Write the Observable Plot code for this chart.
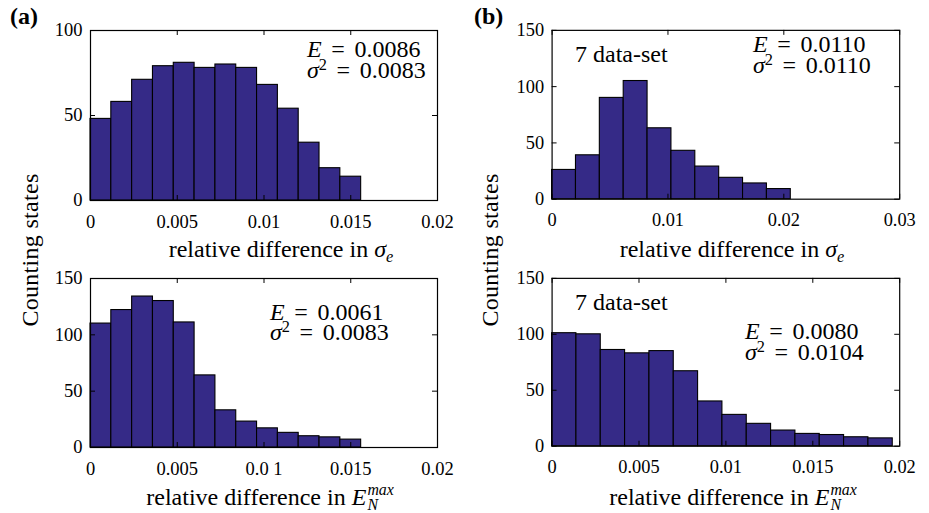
<!DOCTYPE html>
<html>
<head>
<meta charset="utf-8">
<script src="https://cdn.jsdelivr.net/npm/d3@7"></script>
<script src="https://cdn.jsdelivr.net/npm/@observablehq/plot@0.6"></script>
<style>
  html, body { margin: 0; padding: 0; background: #fff; }
  #fig { position: relative; width: 929px; height: 513px; background: #fff; overflow: hidden; font-family: "Liberation Serif", serif; color: #000; }
  .p { position: absolute; }
  .p svg { overflow: visible; }
  .t { position: absolute; white-space: nowrap; font-family: "Liberation Serif", serif; font-size: 24px; line-height: 0.8; transform: translateY(-50%); }
  .c { transform: translate(-50%, -50%); }
  .eqs { margin: 0 0.4em; }
  .sup { font-size: 0.68em; vertical-align: 0.5em; line-height: 0; }
  .sub { font-size: 0.68em; vertical-align: -0.3em; line-height: 0; }
  .stk { display: inline-flex; flex-direction: column; font-size: 0.66em; line-height: 0.95; vertical-align: 0.62em; margin-left: 1px; }
</style>
</head>
<body>
<div id="fig"></div>
<script>
// ---------- data ----------
// (a) top: relative difference in sigma_e
const aTopCounts = [48, 58, 71, 79, 81, 78, 80, 78, 68, 54, 34, 19, 14];
const aTopBinWidth = 0.0012;
// (a) bottom: relative difference in E_N^max
const aBotCounts = [110, 122, 134, 130, 111, 64, 33, 23, 17, 13, 10, 9, 7];
const aBotBinWidth = 0.0012;
// (b) top: relative difference in sigma_e (7 data-set)
const bTopCounts = [26, 39, 90, 105, 63, 43, 29, 19, 14, 9];
const bTopBinWidth = 0.00206;
// (b) bottom: relative difference in E_N^max (7 data-set)
const bBotCounts = [101, 100, 86, 83, 85, 67, 40, 28, 20, 14, 11, 10, 8, 7];
const bBotBinWidth = 0.0014;

const xTicks02 = [0, 0.005, 0.01, 0.015, 0.02];
const xLabelsATop = ["0", "0.005", "0.01", "0.015", "0.02"];
const xLabelsABot = ["0", "0.005", "0.0 1", "0.015", "0.02"];
const xLabelsBBot = ["0", "0.005", "0.01", "0.015", "0.02"];
const xTicks03 = [0, 0.01, 0.02, 0.03];
const xLabelsBTop = ["0", "0.01", "0.02", "0.03"];
const yTicks100 = [0, 50, 100];
const yTicks150 = [0, 50, 100, 150];

const barFill = "#352a87";
const serif = "'Liberation Serif', serif";

// ---------- drawing ----------
const fig = document.getElementById("fig");

function panel({counts, binW, xMax, xTicks, xLabels, yMax, yTicks, frame}) {
  const [x0, y0, x1, y1] = frame;
  const ml = 60, mr = 30, mt = 20, mb = 40;
  const fw = x1 - x0, fh = y1 - y0;
  const tick = 5;
  const data = counts.map((c, i) => ({x1: i * binW, x2: (i + 1) * binW, y: c}));
  const p = Plot.plot({
    width: fw + ml + mr,
    height: fh + mt + mb,
    marginLeft: ml, marginRight: mr, marginTop: mt, marginBottom: mb,
    style: {fontFamily: serif, fontSize: "18.5px", color: "#000", background: "transparent"},
    x: {domain: [0, xMax]},
    y: {domain: [0, yMax]},
    marks: [
      Plot.rectY(data, {x1: "x1", x2: "x2", y: "y", fill: barFill, stroke: "#000", strokeWidth: 1.1}),
      Plot.tickX(xTicks, {x: d => d, insetTop: fh - tick, stroke: "#000"}),
      Plot.tickX(xTicks, {x: d => d, insetBottom: fh - tick, stroke: "#000"}),
      Plot.tickY(yTicks, {y: d => d, insetRight: fw - tick, stroke: "#000"}),
      Plot.tickY(yTicks, {y: d => d, insetLeft: fw - tick, stroke: "#000"}),
      Plot.axisX({anchor: "bottom", ticks: xTicks, tickSize: 0, tickPadding: 14, tickFormat: d => xLabels[xTicks.indexOf(d)], label: null, fontFamily: serif}),
      Plot.axisY({anchor: "left", ticks: yTicks, tickSize: 0, tickPadding: 8, tickFormat: d => String(d), label: null, fontFamily: serif}),
      Plot.frame({stroke: "#000", strokeWidth: 1.2})
    ]
  });
  const holder = document.createElement("div");
  holder.className = "p";
  holder.style.left = (x0 - ml) + "px";
  holder.style.top = (y0 - mt) + "px";
  holder.appendChild(p);
  fig.appendChild(holder);
}

panel({counts: aTopCounts, binW: aTopBinWidth, xMax: 0.02, xTicks: xTicks02, xLabels: xLabelsATop, yMax: 100, yTicks: yTicks100, frame: [90, 30, 437, 200]});
panel({counts: aBotCounts, binW: aBotBinWidth, xMax: 0.02, xTicks: xTicks02, xLabels: xLabelsABot, yMax: 150, yTicks: yTicks150, frame: [90, 278, 437, 447]});
panel({counts: bTopCounts, binW: bTopBinWidth, xMax: 0.03, xTicks: xTicks03, xLabels: xLabelsBTop, yMax: 150, yTicks: yTicks150, frame: [552, 30, 902, 200]});
panel({counts: bBotCounts, binW: bBotBinWidth, xMax: 0.02, xTicks: xTicks02, xLabels: xLabelsBBot, yMax: 150, yTicks: yTicks150, frame: [552, 278, 902, 447]});

// ---------- text ----------
function txt(html, x, y, cls = "", extra = "") {
  const d = document.createElement("div");
  d.className = "t " + cls;
  d.style.left = x + "px";
  d.style.top = y + "px";
  if (extra) d.style.cssText += extra;
  d.innerHTML = html;
  fig.appendChild(d);
}
const sigE = `relative difference in <i>σ</i><span class="sub"><i>e</i></span>`;
const eN = `relative difference in <i>E</i><span class="stk"><i>max</i><i>N</i></span>`;

txt("(a)", 10, 17, "", "font-weight:bold;font-size:24px;");
txt("(b)", 474, 17, "", "font-weight:bold;font-size:24px;");

txt(sigE, 281, 250, "c");
txt(sigE, 732, 250, "c");
txt(eN, 270, 497, "c");
txt(eN, 733, 497, "c");

txt("Counting states", 31, 250, "c", "transform:translate(-50%,-50%) rotate(-90deg);letter-spacing:0.3px;");
txt("Counting states", 491, 250, "c", "transform:translate(-50%,-50%) rotate(-90deg);letter-spacing:0.3px;");

txt("7 data-set", 575, 55);
txt("7 data-set", 575, 303);

const eq = (a, b) => `${a}<span class="eqs">=</span>${b}`;
const sig2 = `<i>σ</i><span class="sup">2</span>`;
txt(eq("<i>E</i>", "0.0086"), 307, 50);
txt(eq(sig2, "0.0083"), 307, 71);
txt(eq("<i>E</i>", "0.0061"), 270, 313);
txt(eq(sig2, "0.0083"), 270, 333);
txt(eq("<i>E</i>", "0.0110"), 753, 45);
txt(eq(sig2, "0.0110"), 753, 66);
txt(eq("<i>E</i>", "0.0080"), 745, 332);
txt(eq(sig2, "0.0104"), 745, 353);
</script>
</body>
</html>
